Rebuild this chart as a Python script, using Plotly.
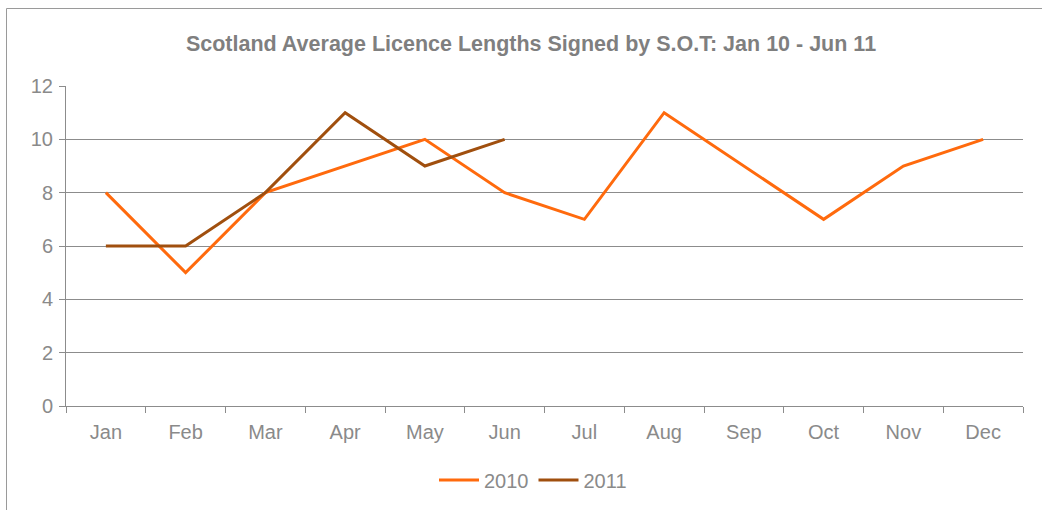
import plotly.graph_objects as go

months = ["Jan", "Feb", "Mar", "Apr", "May", "Jun", "Jul", "Aug", "Sep", "Oct", "Nov", "Dec"]
values_2010 = [8, 5, 8, 9, 10, 8, 7, 11, 9, 7, 9, 10]
months_2011 = ["Jan", "Feb", "Mar", "Apr", "May", "Jun"]
values_2011 = [6, 6, 8, 11, 9, 10]
title_text = "Scotland Average Licence Lengths Signed by S.O.T: Jan 10 - Jun 11"

TXT = "#8a8a8a"
GRID = "#8c8c8c"

fig = go.Figure()
fig.add_trace(go.Scatter(x=months, y=values_2010, mode="lines", name="2010",
                         line=dict(color="#FF6A0D", width=3)))
fig.add_trace(go.Scatter(x=months_2011, y=values_2011, mode="lines", name="2011",
                         line=dict(color="#A04F0E", width=3)))

W, H = 1042, 510
L, R, T, B = 66, 1023, 86, 406
fig.update_layout(
    width=W, height=H,
    margin=dict(l=L, r=W - R, t=T, b=H - B, autoexpand=False),
    paper_bgcolor="white", plot_bgcolor="white",
    font=dict(family="Liberation Sans, Arial, sans-serif", color=TXT, size=20),
    title=dict(text="<b>" + title_text + "</b>", x=531 / W, xanchor="center",
               y=1 - 43 / H, yanchor="middle", xref="container",
               font=dict(size=21.5, color="#7f7f7f")),
    showlegend=True,
    legend=dict(orientation="h", x=533 / W, xref="container", xanchor="center",
                y=1 - 480 / H, yref="container", yanchor="middle",
                font=dict(size=20, color=TXT), itemwidth=40),
    xaxis=dict(type="category", categoryorder="array", categoryarray=months,
               range=[-0.5, 11.5], showgrid=False, showline=True, linecolor=GRID,
               linewidth=1, ticks="outside", tickson="boundaries", ticklen=6,
               tickcolor=GRID, tickfont=dict(size=20, color=TXT), zeroline=False,
               automargin=False, ticklabelstandoff=8),
    yaxis=dict(range=[0, 12], dtick=2, showgrid=True, gridcolor=GRID, gridwidth=1,
               showline=True, linecolor=GRID, linewidth=1, ticks="outside",
               ticklen=6, tickcolor=GRID, tickfont=dict(size=20, color=TXT),
               zeroline=False, automargin=False, ticklabelstandoff=2),
)

# outer chart border (left and top edges visible)
bx = (6.5 - L) / (R - L)
by_top = 1 + (T - 8.5) / (B - T)
by_bot = 1 + (T - 520) / (B - T)
bx_right = (1060 - L) / (R - L)
fig.add_shape(type="line", xref="paper", yref="paper", x0=bx, x1=bx, y0=by_bot, y1=by_top,
              line=dict(color="#9a9a9a", width=1))
fig.add_shape(type="line", xref="paper", yref="paper", x0=bx, x1=bx_right, y0=by_top, y1=by_top,
              line=dict(color="#9a9a9a", width=1))

fig.write_html("out.html", config={"displayModeBar": False},
               post_script="document.body.style.margin='0';document.body.style.overflow='hidden';")
